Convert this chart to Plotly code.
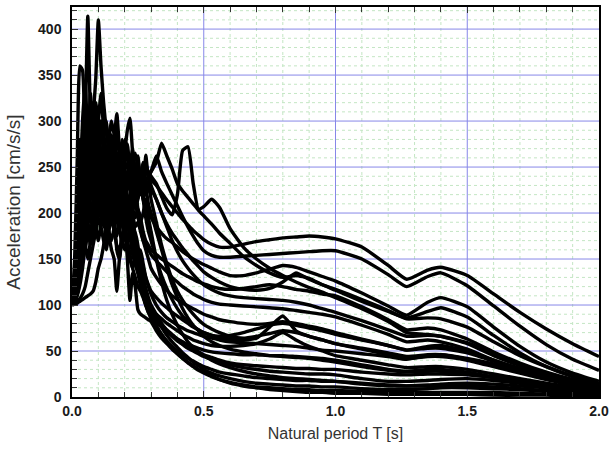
import plotly.graph_objects as go

# Natural periods (s): fine sampling at short periods, coarser at long periods
period = [0.00, 0.01, 0.02, 0.03, 0.04, 0.05, 0.06, 0.07, 0.08, 0.09,
          0.10, 0.11, 0.12, 0.13, 0.14, 0.15, 0.16, 0.17, 0.18, 0.19,
          0.20, 0.21, 0.22, 0.23, 0.24, 0.25, 0.26, 0.27, 0.28, 0.29,
          0.30,
          0.32, 0.34, 0.36, 0.38, 0.40, 0.42, 0.44, 0.46, 0.48, 0.50,
          0.53, 0.56, 0.60, 0.65, 0.70, 0.75, 0.80, 0.85, 0.90, 0.95,
          1.00, 1.10, 1.20, 1.27, 1.35, 1.40, 1.50, 1.60, 1.70, 1.80,
          1.90, 2.00]

# Spectral acceleration (cm/s/s) of each record
acc_01 = [100,112,135,180,240,300,414,300,210,190,230,250,210,170,190,220,200,160,150,175,185,150,105,135,120,95,90,88,86,84,82,
          72,64,58,52,47,42,38,34,30,27,23,19,15,12,10,8,7,6,5,5,4,4,3,3,3,3,3,2,2,2,1,1]
acc_02 = [100,108,125,160,200,235,255,280,305,345,410,360,320,290,265,240,255,265,240,215,230,245,225,205,195,205,195,180,170,165,160,
          155,150,146,142,138,134,131,128,125,123,120,118,117,118,120,122,120,117,115,112,110,98,84,73,75,73,63,49,37,27,19,13]
acc_03 = [100,150,260,360,355,270,215,250,285,260,225,215,250,270,235,205,215,240,220,190,175,195,210,185,160,150,160,145,130,120,112,
          100,92,86,82,78,75,72,70,68,66,64,62,60,59,58,57,56,55,53,51,50,47,44,41,45,46,42,36,28,21,15,10]
acc_04 = [100,115,140,175,210,190,230,260,240,210,240,270,230,215,250,265,280,308,270,240,265,290,303,265,235,245,230,215,205,200,195,
          185,178,172,168,163,158,154,150,147,144,140,136,132,132,135,139,143,141,136,131,126,113,99,89,103,108,98,76,55,38,26,17]
acc_05 = [100,110,130,160,185,205,190,175,200,225,215,195,210,235,225,200,215,240,230,210,225,245,235,215,240,262,235,225,263,240,245,
          262,245,232,220,208,196,185,175,166,159,154,152,152,153,154,155,156,157,158,159,159,150,133,120,131,135,121,99,77,57,41,29]
acc_06 = [100,105,118,140,170,200,230,210,190,215,240,225,200,215,235,220,200,190,210,230,215,195,205,225,240,230,220,235,250,245,240,
          232,218,205,198,220,268,272,232,204,207,215,206,183,163,150,140,132,125,119,114,108,96,82,70,68,66,58,45,34,25,17,12]
acc_07 = [100,108,120,145,175,160,185,210,195,180,200,220,205,190,210,230,215,200,215,235,220,205,220,240,225,215,230,245,235,240,245,
          255,276,262,248,232,224,217,210,203,197,188,178,167,153,143,135,130,132,129,122,116,104,93,86,93,97,87,67,48,33,22,14]
acc_08 = [100,104,115,135,160,185,210,235,220,200,215,235,250,240,225,235,255,245,230,240,255,250,240,250,245,235,240,250,245,240,236,
          230,222,214,207,200,193,187,181,176,171,166,163,163,166,169,171,173,174,175,174,172,163,143,128,138,141,132,112,92,74,58,44]
acc_09 = [100,112,130,150,175,200,185,165,180,205,225,210,190,200,220,205,185,175,195,210,190,170,180,195,175,160,150,140,130,122,115,
          108,102,97,92,88,84,80,76,73,70,67,65,63,62,64,76,88,72,66,62,58,53,48,44,46,46,41,34,27,20,14,10]
acc_10 = [100,106,122,145,170,195,220,200,180,195,215,200,185,205,225,210,190,205,225,210,190,200,215,200,185,190,180,170,165,160,155,
          148,142,136,130,125,120,116,112,109,106,103,101,100,99,98,97,96,94,92,90,87,78,68,60,62,60,52,40,30,22,15,10]
acc_11 = [100,110,128,155,180,165,150,170,195,185,170,190,210,195,180,170,185,200,185,165,175,190,175,155,145,135,130,120,110,100,95,
          90,85,80,76,72,68,65,62,60,58,56,55,55,56,58,63,70,62,55,50,45,40,35,32,33,33,30,25,20,15,11,8]
acc_12 = [100,102,104,107,112,120,135,150,165,180,195,185,170,160,180,195,180,165,160,175,185,170,150,140,150,135,120,110,100,92,88,
          82,76,71,67,63,60,57,55,53,51,49,48,47,46,46,45,45,44,43,42,40,35,30,28,30,30,27,22,18,14,10,7]
acc_13 = [100,118,145,185,225,260,240,215,235,265,245,220,205,225,240,220,200,210,230,215,195,185,200,180,165,155,140,128,118,108,100,
          90,80,72,66,61,57,53,50,47,44,41,38,35,32,30,28,27,26,25,25,24,20,17,17,18,19,20,18,15,12,9,7]
acc_14 = [100,107,118,138,160,185,210,235,260,240,215,200,220,240,225,205,190,200,215,200,180,170,185,170,150,140,125,112,100,92,85,
          76,68,61,55,50,46,42,39,36,33,30,27,25,23,21,20,19,18,18,17,17,14,12,12,13,14,15,14,12,10,7,5]
acc_15 = [100,105,115,130,150,170,195,220,245,270,250,225,205,190,210,230,215,195,180,195,210,195,175,165,180,165,145,130,115,105,97,
          86,76,67,60,54,48,43,38,34,30,26,23,20,17,15,14,13,12,12,11,11,9,8,8,9,10,10,9,8,6,5,4]
acc_16 = [100,110,125,150,180,215,250,285,320,300,270,245,225,245,260,240,215,225,240,220,200,210,195,175,160,150,140,125,110,98,90,
          78,68,60,53,47,42,37,33,29,26,22,19,16,13,11,10,9,8,8,7,7,6,5,5,5,5,5,5,4,3,3,2]
acc_17 = [100,114,140,175,215,250,285,260,235,255,280,265,240,225,245,260,240,220,235,250,230,210,220,235,215,195,185,170,160,150,140,
          130,122,116,110,106,102,99,96,93,90,87,84,82,80,79,80,82,80,77,74,70,63,56,51,55,56,50,40,31,23,16,11]
acc_18 = [100,104,112,128,150,175,200,225,250,275,300,330,290,260,280,300,285,260,245,265,280,260,240,255,265,250,235,245,255,240,230,
          215,200,188,178,170,162,155,148,142,136,130,125,120,117,116,118,125,135,128,122,117,106,94,85,86,85,76,60,45,33,23,15]
acc_19 = [100,101,102,104,106,108,110,112,115,125,140,150,165,185,175,160,150,115,150,170,160,170,155,140,130,120,115,108,100,95,90,
          85,79,73,68,63,59,55,52,49,46,43,40,37,35,34,33,32,31,31,30,30,27,25,24,25,25,24,21,17,13,10,7]
acc_20 = [100,120,160,220,280,320,290,250,270,295,275,245,230,250,265,245,225,240,255,235,215,230,250,235,215,225,240,230,220,225,225,
          215,200,185,170,158,148,140,133,127,122,117,113,110,108,107,106,105,103,100,96,92,83,73,66,67,66,59,47,35,25,18,12]
acc_21 = [100,125,190,280,240,200,260,330,280,230,270,300,260,230,260,285,255,230,260,280,250,225,250,270,240,220,235,255,230,210,200,
          180,160,140,122,108,96,86,78,72,66,60,56,52,49,47,45,44,43,42,40,38,33,29,27,28,28,25,21,17,13,10,7]
acc_22 = [100,115,160,230,300,340,280,240,290,320,290,250,280,300,270,240,270,290,260,230,255,275,245,220,240,258,230,215,225,235,215,
          190,165,145,128,115,105,97,90,84,79,74,70,66,64,66,69,72,70,66,62,58,52,46,42,44,44,40,33,26,19,13,9]
acc_23 = [100,110,140,200,270,230,190,220,250,225,195,225,250,220,190,215,240,215,190,210,235,210,185,200,225,205,190,200,215,195,180,
          150,125,105,90,78,68,60,54,49,45,40,36,32,28,25,23,21,20,19,18,17,15,13,12,12,12,12,11,9,7,5,4]
acc_24 = [100,103,110,122,140,165,195,230,270,310,290,260,235,255,275,250,225,245,265,240,215,235,255,230,205,215,235,215,195,180,170,
          150,132,118,106,96,88,82,77,73,70,67,66,67,70,74,78,80,78,75,72,68,62,56,51,53,53,48,39,30,22,15,10]

records = [acc_01, acc_02, acc_03, acc_04, acc_05, acc_06, acc_07, acc_08, acc_09, acc_10,
           acc_11, acc_12, acc_13, acc_14, acc_15, acc_16, acc_17, acc_18, acc_19, acc_20,
           acc_21, acc_22, acc_23, acc_24]

# Axis ticks: labelled majors and unlabelled minors
x_major = [0.0, 0.5, 1.0, 1.5, 2.0]
x_labels = ["0.0", "0.5", "1.0", "1.5", "2.0"]
x_minor = [0.1, 0.2, 0.3, 0.4, 0.6, 0.7, 0.8, 0.9, 1.1, 1.2, 1.3, 1.4, 1.6, 1.7, 1.8, 1.9]
y_major = [0, 50, 100, 150, 200, 250, 300, 350, 400]
y_minor = [v for v in range(10, 421, 10) if v % 50 != 0]

fig = go.Figure()
for i, acc in enumerate(records):
    fig.add_trace(go.Scatter(
        x=period, y=acc, mode="lines",
        line=dict(color="black", width=3.4, shape="spline", smoothing=0.5),
        showlegend=False, hoverinfo="skip", name=f"Record {i+1}"))

major_grid = "rgb(135,135,232)"
minor_grid = "rgb(196,230,196)"
tickfont = dict(family="Arial, Liberation Sans, sans-serif", size=14, color="#1a1a1a", weight="bold")

# Grid drawn as layout lines beneath the traces: dotted green minors, solid blue majors
for xv in x_minor:
    fig.add_vline(x=xv, line=dict(color=minor_grid, width=1, dash="dot"), layer="below")
for yv in y_minor:
    fig.add_hline(y=yv, line=dict(color=minor_grid, width=1, dash="dot"), layer="below")
for xv in x_major[1:-1]:
    fig.add_vline(x=xv, line=dict(color=major_grid, width=1), layer="below")
for yv in y_major[1:]:
    fig.add_hline(y=yv, line=dict(color=major_grid, width=1), layer="below")

fig.update_layout(
    width=614, height=454,
    margin=dict(l=72, r=10, t=5, b=57),
    paper_bgcolor="white", plot_bgcolor="white",
    font=dict(family="Arial, Liberation Sans, sans-serif", color="#333"),
)
fig.update_xaxes(
    range=[0, 2.0], tickmode="array", tickvals=x_major, ticktext=x_labels,
    tickfont=tickfont,
    showgrid=False,
    ticks="inside", ticklen=6, tickcolor="#333", tickwidth=1,
    minor=dict(tickmode="array", tickvals=x_minor, showgrid=False,
               ticks="inside", ticklen=5, tickcolor="#333"),
    showline=True, linecolor="black", linewidth=1.5, mirror="ticks",
    zeroline=False,
    title=dict(text="Natural period T [s]", font=dict(size=16, color="#333"), standoff=10),
)
fig.update_yaxes(
    range=[0, 424], tickmode="array", tickvals=y_major,
    tickfont=tickfont, ticklabelstandoff=6,
    showgrid=False,
    ticks="inside", ticklen=6, tickcolor="#333", tickwidth=1,
    minor=dict(tickmode="array", tickvals=y_minor, showgrid=False,
               ticks="inside", ticklen=5, tickcolor="#333"),
    showline=True, linecolor="black", linewidth=1.5, mirror=True,
    zeroline=False,
    title=dict(text="Acceleration [cm/s/s]", font=dict(size=19, color="#333"), standoff=12),
)

fig.write_html("out.html", config={"displayModeBar": False},
               post_script="document.body.style.margin='0';document.body.style.padding='0';")
